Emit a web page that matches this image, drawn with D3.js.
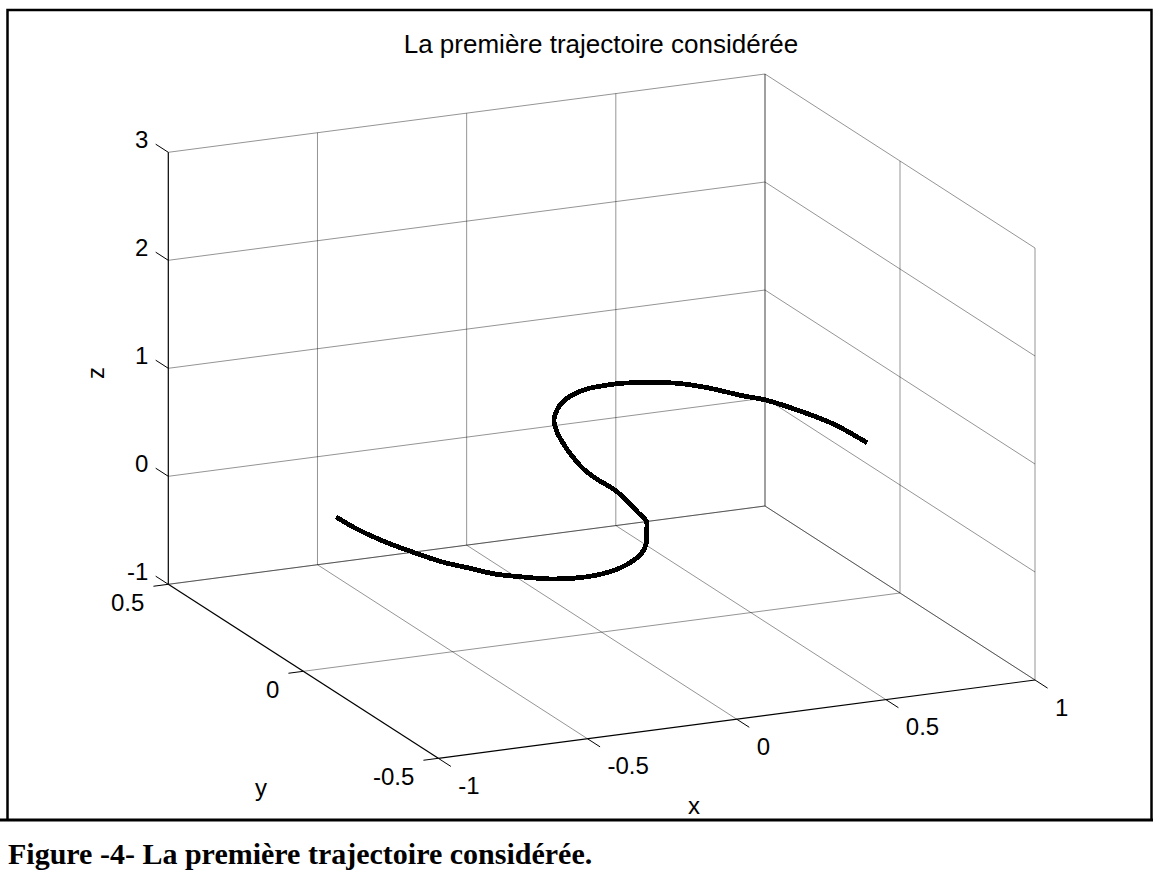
<!DOCTYPE html>
<html>
<head>
<meta charset="utf-8">
<script src="https://cdn.jsdelivr.net/npm/d3@7"></script>
<style>
body { margin: 0; background: #fff; }
text { font-family: "Liberation Sans", Arial, sans-serif; fill: #000; }
</style>
</head>
<body>
<script>
var xTicks = [-1, -0.5, 0, 0.5, 1];
var yTicks = [-0.5, 0, 0.5];
var zTicks = [-1, 0, 1, 2, 3];

// points of the trajectory (curve lies in y = 0)
var trajX = [-0.89, -0.83, -0.74, -0.64, -0.54, -0.44, -0.36, -0.27, -0.16, -0.05,
             0.03, 0.08, 0.13, 0.15, 0.15, 0.15, 0.12, 0.08, 0.04, -0.01,
             -0.06, -0.10, -0.13, -0.15, -0.16, -0.15, -0.13, -0.10, -0.05, 0.01,
             0.07, 0.16, 0.24, 0.30, 0.36, 0.47, 0.55, 0.67, 0.78, 0.89];
var trajY = [0, 0, 0, 0, 0, 0, 0, 0, 0, 0,
             0, 0, 0, 0, 0, 0, 0, 0, 0, 0,
             0, 0, 0, 0, 0, 0, 0, 0, 0, 0,
             0, 0, 0, 0, 0, 0, 0, 0, 0, 0];
var trajZ = [0.39, 0.27, 0.12, -0.02, -0.15, -0.25, -0.33, -0.39, -0.45, -0.47,
             -0.45, -0.41, -0.33, -0.23, -0.14, -0.03, 0.07, 0.20, 0.31, 0.41,
             0.53, 0.67, 0.80, 0.91, 1.02, 1.11, 1.18, 1.23, 1.27, 1.28,
             1.28, 1.25, 1.22, 1.18, 1.13, 1.02, 0.95, 0.80, 0.64, 0.43];

var titleText = "La première trajectoire considérée";
var captionText = "Figure -4- La première trajectoire considérée.";

var width = 1153, height = 884;

var svg = d3.select("body").append("svg")
	.attr("width", width)
	.attr("height", height);

// orthographic view: origin is the corner x=-1, y=0.5, z=-1
var origin = [168.3, 584.3];
var ex = [596.7, -78.3];   // whole x range
var ey = [270, 174];       // whole y range (0.5 -> -0.5)
var ez = [0, -432];        // whole z range

var xs = d3.scaleLinear().domain([-1, 1]).range([0, 1]);
var ys = d3.scaleLinear().domain([0.5, -0.5]).range([0, 1]);
var zs = d3.scaleLinear().domain([-1, 3]).range([0, 1]);

function proj(x, y, z) {
	var a = xs(x), b = ys(y), c = zs(z);
	return [origin[0] + a * ex[0] + b * ey[0] + c * ez[0],
	        origin[1] + a * ex[1] + b * ey[1] + c * ez[1]];
}

// grid on the back wall (y=0.5), side wall (x=1) and floor (z=-1)
var grid = [];
xTicks.forEach(function(x) {
	if (x > -1) grid.push([[x, 0.5, -1], [x, 0.5, 3]]);
	if (x > -1) grid.push([[x, 0.5, -1], [x, -0.5, -1]]);
});
yTicks.forEach(function(y) {
	grid.push([[1, y, -1], [1, y, 3]]);
	if (y > -0.5) grid.push([[-1, y, -1], [1, y, -1]]);
});
zTicks.forEach(function(z) {
	grid.push([[-1, 0.5, z], [1, 0.5, z]]);
	grid.push([[1, 0.5, z], [1, -0.5, z]]);
});

svg.append("g").selectAll("line")
	.data(grid).enter()
	.append("line")
	.attr("x1", function(d) { return proj.apply(null, d[0])[0]; })
	.attr("y1", function(d) { return proj.apply(null, d[0])[1]; })
	.attr("x2", function(d) { return proj.apply(null, d[1])[0]; })
	.attr("y2", function(d) { return proj.apply(null, d[1])[1]; })
	.style("stroke", "#000")
	.style("stroke-opacity", 0.42)
	.style("stroke-width", 1);

// the three axis lines
var axes = [
	[[-1, -0.5, -1], [1, -0.5, -1]],
	[[-1, 0.5, -1], [-1, -0.5, -1]],
	[[-1, 0.5, -1], [-1, 0.5, 3]]
];
svg.append("g").selectAll("line")
	.data(axes).enter()
	.append("line")
	.attr("x1", function(d) { return proj.apply(null, d[0])[0]; })
	.attr("y1", function(d) { return proj.apply(null, d[0])[1]; })
	.attr("x2", function(d) { return proj.apply(null, d[1])[0]; })
	.attr("y2", function(d) { return proj.apply(null, d[1])[1]; })
	.style("stroke", "#000")
	.style("stroke-width", 1.2);

var tickLen = 15;
function unit(v) { var l = Math.hypot(v[0], v[1]); return [v[0] / l, v[1] / l]; }
var xDir = unit(ey), yDir = unit([-ex[0], -ex[1]]), zDir = unit([-ey[0], -ey[1]]);

// x axis ticks + labels
var gx = svg.append("g");
gx.selectAll("line").data(xTicks).enter().append("line")
	.attr("x1", function(d) { return proj(d, -0.5, -1)[0]; })
	.attr("y1", function(d) { return proj(d, -0.5, -1)[1]; })
	.attr("x2", function(d) { return proj(d, -0.5, -1)[0] + xDir[0] * tickLen; })
	.attr("y2", function(d) { return proj(d, -0.5, -1)[1] + xDir[1] * tickLen; })
	.style("stroke", "#000");
gx.selectAll("text").data(xTicks).enter().append("text")
	.attr("x", function(d) { return proj(d, -0.5, -1)[0] + 20; })
	.attr("y", function(d) { return proj(d, -0.5, -1)[1] + 35.5; })
	.style("font-size", "24px")
	.text(function(d) { return d; });

// y axis ticks + labels
var gy = svg.append("g");
gy.selectAll("line").data(yTicks).enter().append("line")
	.attr("x1", function(d) { return proj(-1, d, -1)[0]; })
	.attr("y1", function(d) { return proj(-1, d, -1)[1]; })
	.attr("x2", function(d) { return proj(-1, d, -1)[0] + yDir[0] * tickLen; })
	.attr("y2", function(d) { return proj(-1, d, -1)[1] + yDir[1] * tickLen; })
	.style("stroke", "#000");
gy.selectAll("text").data(yTicks).enter().append("text")
	.attr("x", function(d) { return proj(-1, d, -1)[0] - 24; })
	.attr("y", function(d) { return proj(-1, d, -1)[1] + 26.5; })
	.attr("text-anchor", "end")
	.style("font-size", "24px")
	.text(function(d) { return d; });

// z axis ticks + labels
var gz = svg.append("g");
gz.selectAll("line").data(zTicks).enter().append("line")
	.attr("x1", function(d) { return proj(-1, 0.5, d)[0]; })
	.attr("y1", function(d) { return proj(-1, 0.5, d)[1]; })
	.attr("x2", function(d) { return proj(-1, 0.5, d)[0] + zDir[0] * tickLen; })
	.attr("y2", function(d) { return proj(-1, 0.5, d)[1] + zDir[1] * tickLen; })
	.style("stroke", "#000");
gz.selectAll("text").data(zTicks).enter().append("text")
	.attr("x", function(d) { return proj(-1, 0.5, d)[0] - 20; })
	.attr("y", function(d) { return proj(-1, 0.5, d)[1] - 4; })
	.attr("text-anchor", "end")
	.style("font-size", "24px")
	.text(function(d) { return d; });

// axis names
svg.append("text").attr("x", 694).attr("y", 814).attr("text-anchor", "middle")
	.style("font-size", "24px").text("x");
svg.append("text").attr("x", 261).attr("y", 796).attr("text-anchor", "middle")
	.style("font-size", "24px").text("y");
svg.append("text").attr("transform", "translate(104,373) rotate(-90)")
	.attr("text-anchor", "middle")
	.style("font-size", "24px").text("z");

// title
svg.append("text").attr("x", 601).attr("y", 53).attr("text-anchor", "middle")
	.style("font-size", "26px").text(titleText);

// the trajectory (thick, aliased like the original)
var pts = trajX.map(function(x, i) { return proj(x, trajY[i], trajZ[i]); });
var line = d3.line().curve(d3.curveCatmullRom);
svg.append("path")
	.attr("d", line(pts))
	.style("fill", "none")
	.style("stroke", "#000")
	.style("stroke-width", 4.8)
	.style("stroke-linejoin", "round")
	.style("shape-rendering", "crispEdges");

// document frame and caption
svg.append("path")
	.attr("d", "M7.5,820 V10 H1151.5 V820")
	.style("fill", "none")
	.style("stroke", "#000")
	.style("stroke-width", 2.5);
svg.append("line")
	.attr("x1", 0).attr("x2", width).attr("y1", 820).attr("y2", 820)
	.style("stroke", "#000")
	.style("stroke-width", 2.8);
svg.append("text")
	.attr("x", 8).attr("y", 864)
	.style("font-family", "'Liberation Serif', 'Times New Roman', serif")
	.style("font-weight", "bold")
	.style("font-size", "30px")
	.text(captionText);
</script>
</body>
</html>
